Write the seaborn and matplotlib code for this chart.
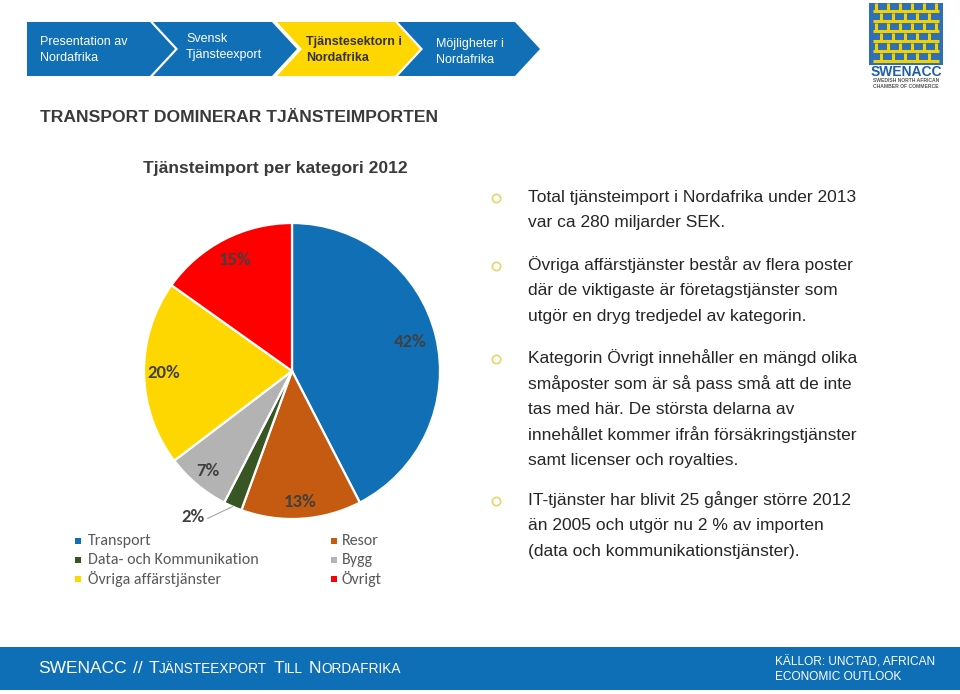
import matplotlib
matplotlib.use('Agg')
import matplotlib.pyplot as plt
import seaborn as sns
import numpy as np
from matplotlib import font_manager as fm
from matplotlib.patches import Polygon, Rectangle

# ---------------- data ----------------
categories = ['Transport', 'Resor', 'Data- och Kommunikation', 'Bygg',
              'Övriga affärstjänster', 'Övrigt']
shares = [42, 13, 2, 7, 20, 15]
pct_labels = ['42%', '13%', '2%', '7%', '20%', '15%']
legend_order = ['Transport', 'Data- och Kommunikation', 'Övriga affärstjänster',
                'Resor', 'Bygg', 'Övrigt']
slice_colors = ['#1170b5', '#c55a11', '#375623', '#b3b3b3', '#ffd700', '#ff0000']

nav_labels = ['Presentation av\nNordafrika', 'Svensk\nTjänsteexport',
              'Tjänstesektorn i\nNordafrika', 'Möjligheter i\nNordafrika']
active_nav = 2

page_title = 'TRANSPORT DOMINERAR TJÄNSTEIMPORTEN'
chart_title = 'Tjänsteimport per kategori 2012'
bullets = [
    ['Total tjänsteimport i Nordafrika under 2013', 'var ca 280 miljarder SEK.'],
    ['Övriga affärstjänster består av flera poster',
     'där de viktigaste är företagstjänster som',
     'utgör en dryg tredjedel av kategorin.'],
    ['Kategorin Övrigt innehåller en mängd olika',
     'småposter som är så pass små att de inte',
     'tas med här. De största delarna av',
     'innehållet kommer ifrån försäkringstjänster',
     'samt licenser och royalties.'],
    ['IT-tjänster har blivit 25 gånger större 2012',
     'än 2005 och utgör nu 2 % av importen',
     '(data och kommunikationstjänster).'],
]
footer_left = [('SWENACC', True), ('//', True), ('T', True), ('JÄNSTEEXPORT', False),
               ('T', True), ('ILL', False), ('N', True), ('ORDAFRIKA', False)]
footer_right = ['KÄLLOR: UNCTAD, AFRICAN', 'ECONOMIC OUTLOOK']

# ---------------- fonts ----------------
sns.set_theme(style='white')
avail = {f.name for f in fm.fontManager.ttflist}
def pick(*names):
    for n in names:
        if n in avail:
            return n
    return 'DejaVu Sans'
NARROW = pick('Liberation Sans Narrow', 'Arial Narrow', 'Liberation Sans')
ARIAL = pick('Liberation Sans', 'Arial')
CALIBRI = pick('Carlito', 'Lato', 'Open Sans')
plt.rcParams['font.family'] = [ARIAL, 'DejaVu Sans']

W, H = 960, 694
fig = plt.figure(figsize=(W / 100, H / 100), dpi=100)
fig.patch.set_facecolor('white')
ax0 = fig.add_axes([0, 0, 1, 1])
ax0.set_xlim(0, W)
ax0.set_ylim(H, 0)
ax0.axis('off')

BLUE = '#1170b5'
YEL = '#ffd700'

# ---------------- navigation chevrons ----------------
top, bot = 22, 76
mid = (top + bot) / 2
d = 25
nav_x0 = [27, 153, 277, 398]
nav_xf = [150, 272, 395, 515]
nav_tx = [40, 186, 306, 436]
nav_ty = [50, 47, 50, 52]
for i, lab in enumerate(nav_labels):
    x0, xf = nav_x0[i], nav_xf[i]
    pts = [(x0, top), (xf, top), (xf + d, mid), (xf, bot), (x0, bot)]
    if i > 0:
        pts.append((x0 + d, mid))
    col = YEL if i == active_nav else BLUE
    ax0.add_patch(Polygon(pts, closed=True, facecolor=col, edgecolor='none'))
    ax0.text(nav_tx[i], nav_ty[i], lab, family=NARROW, fontsize=9,
             color='#333333' if i == active_nav else 'white',
             fontweight='bold' if i == active_nav else 'normal',
             va='center', ha='left', linespacing=1.45)

# ---------------- logo ----------------
lx0, lx1, ly0, ly1 = 869, 943, 3, 65
ax0.add_patch(Rectangle((lx0, ly0), lx1 - lx0, ly1 - ly0, facecolor='#2f6fb6', edgecolor='none'))
lw = 2.2
rows = [8, 18, 28, 38, 48, 58]
for r_i, yy in enumerate(rows):
    ax0.plot([lx0 + 4, lx1 - 4], [ly0 + yy, ly0 + yy], color='#f2d100', lw=lw,
             solid_capstyle='butt')
    for k in range(6):
        xx = lx0 + 7 + k * 12 + (r_i % 2) * 5
        if xx < lx1 - 4:
            ax0.plot([xx, xx], [ly0 + yy - 8, ly0 + yy], color='#f2d100', lw=lw,
                     solid_capstyle='butt')
ax0.text((lx0 + lx1) / 2, 72, 'SWENACC', family=ARIAL, fontweight='bold',
         fontsize=10, color='#1f5ea8', ha='center', va='center')
ax0.text((lx0 + lx1) / 2, 80.5, 'SWEDISH NORTH AFRICAN', family=ARIAL, fontweight='bold',
         fontsize=3.6, color='#555555', ha='center', va='center')
ax0.text((lx0 + lx1) / 2, 86.5, 'CHAMBER OF COMMERCE', family=ARIAL, fontweight='bold',
         fontsize=3.6, color='#555555', ha='center', va='center')

# ---------------- titles ----------------
ax0.text(40, 117, page_title, family=ARIAL, fontweight='bold', fontsize=12.6,
         color='#3a3a3a', va='center', ha='left')
ax0.text(143, 168, chart_title, family=NARROW, fontweight='bold', fontsize=12.6,
         color='#3a3a3a', va='center', ha='left')

# ---------------- bullets ----------------
bullet_y0 = [197, 265, 358, 500]
line_h = 25.6
for b, lines in zip(bullet_y0, bullets):
    ax0.plot([496], [b + 1], marker='o', ms=6, mfc='none', mec='#e3d66b', mew=1.2)
    for j, ln in enumerate(lines):
        ax0.text(528, b + j * line_h, ln, family=NARROW, fontsize=12.5,
                 color='#262626', va='center', ha='left')

# ---------------- pie ----------------
cx, cy, R = 292, 371, 148
half = 150
axp = fig.add_axes([(cx - half) / W, (H - cy - half) / H, 2 * half / W, 2 * half / H])
pal = sns.color_palette(slice_colors)
wedges, _ = axp.pie(shares, colors=pal, startangle=90, counterclock=False,
                    wedgeprops=dict(edgecolor='white', linewidth=1.6))
L = half / R
axp.set_xlim(-L, L)
axp.set_ylim(-L, L)
axp.axis('off')

label_r = [0.82, 0.89, None, 0.88, 0.87, 0.84]
for w, lab, rr in zip(wedges, pct_labels, label_r):
    th = np.deg2rad((w.theta1 + w.theta2) / 2)
    if rr is not None:
        axp.text(rr * np.cos(th), rr * np.sin(th), lab, family=CALIBRI,
                 fontweight='semibold', fontsize=13.5, color='#404040',
                 ha='center', va='center')
    else:
        ex, ey = np.cos(th), np.sin(th)
        axp.plot([ex, ex - 0.17], [ey, ey - 0.08], color='#a6a6a6', lw=0.8,
                 clip_on=False)
        axp.text(ex - 0.19, ey - 0.07, lab, family=CALIBRI, fontweight='semibold',
                 fontsize=13.5, color='#404040', ha='right', va='center')

# ---------------- legend ----------------
color_of = {c: w.get_facecolor() for c, w in zip(categories, wedges)}
leg_cols = [(78, 88), (334, 342)]
leg_rows = [541, 560, 579]
for k, name in enumerate(legend_order):
    col, row = divmod(k, 3)
    mx, tx = leg_cols[col]
    ax0.plot([mx], [leg_rows[row]], marker='s', ms=5, color=color_of[name], mew=0)
    ax0.text(tx, leg_rows[row], name, family=CALIBRI, fontsize=11.5, color='#595959',
             va='center', ha='left')

# ---------------- footer ----------------
ax0.add_patch(Rectangle((0, 647), W, 43, facecolor='#0f6fb6', edgecolor='none'))
t = ax0.text(38, 673, footer_left[0][0], family=ARIAL, fontsize=12.5, color='white',
             va='baseline', ha='left')
for s, big in footer_left[1:]:
    gap = 6 if big else 0
    t = ax0.annotate(s, xy=(1, 0), xycoords=t, xytext=(gap, 0),
                     textcoords='offset pixels', family=ARIAL,
                     fontsize=12.5 if big else 9.8, color='white',
                     va='bottom', ha='left')
for j, s in enumerate(footer_right):
    ax0.text(775, 662 + j * 14.5, s, family=NARROW, fontsize=8.6, color='white',
             va='center', ha='left')

fig.savefig('out.png', dpi=100, facecolor='white')
